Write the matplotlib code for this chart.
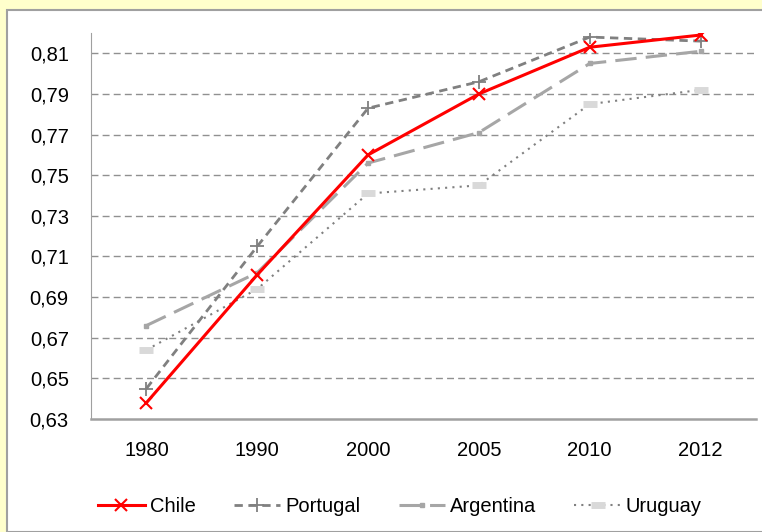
import matplotlib.pyplot as plt
from matplotlib.patches import Rectangle
from matplotlib.ticker import FuncFormatter

plt.rcParams['font.family'] = ['Liberation Sans', 'DejaVu Sans']

years = ['1980', '1990', '2000', '2005', '2010', '2012']
chile = [0.638, 0.701, 0.760, 0.790, 0.813, 0.819]
portugal = [0.645, 0.715, 0.783, 0.796, 0.818, 0.816]
argentina = [0.676, 0.702, 0.756, 0.771, 0.805, 0.811]
uruguay = [0.664, 0.694, 0.741, 0.745, 0.785, 0.792]
yticks = [0.63, 0.65, 0.67, 0.69, 0.71, 0.73, 0.75, 0.77, 0.79, 0.81]

fig = plt.figure(figsize=(7.62, 5.32), dpi=100, facecolor='#FFFFCC')
# white inner panel with gray border
fig.patches.append(Rectangle((7 / 762, 0), 1, 1 - 10 / 532, transform=fig.transFigure,
                             facecolor='white', edgecolor='#A0A0A0', linewidth=1.5, zorder=-5))

ax = fig.add_axes([91 / 762, 1 - 419 / 532, (756 - 91) / 762, (419 - 33) / 532])
ax.set_facecolor('white')
x = range(len(years))

ax.plot(x, chile, color='#FF0000', lw=2.2, marker='x', ms=9, mew=1.5, label='Chile', zorder=5)
ax.plot(x, portugal, color='#808080', lw=2, ls=(0, (3, 2)), marker='+', ms=10, mew=1.3,
        label='Portugal', zorder=4)
ax.plot(x, argentina, color='#A6A6A6', lw=2.2, ls=(0, (7, 3)), marker='s', ms=3.5,
        label='Argentina', zorder=3)
ax.plot(x, uruguay, color='#808080', lw=1.5, ls=(0, (1, 2.5)), marker='_', ms=10, mew=5,
        mec='#D9D9D9', mfc='#D9D9D9', label='Uruguay', zorder=2)

ax.set_xlim(-0.5, len(years) - 0.5)
ax.set_ylim(0.63, 0.82)
ax.set_xticks(list(x))
ax.set_xticklabels(years)
ax.set_yticks(yticks)
ax.yaxis.set_major_formatter(FuncFormatter(lambda v, p: f'{v:.2f}'.replace('.', ',')))
ax.tick_params(length=0, labelsize=14.5)
ax.tick_params(axis='y', pad=16)
ax.tick_params(axis='x', pad=16)

for v in yticks[1:]:
    ax.axhline(v, color='#909090', lw=1, ls=(0, (5, 3)), zorder=1)

for s in ['top', 'right']:
    ax.spines[s].set_visible(False)
ax.spines['left'].set_color('#A0A0A0')
ax.spines['bottom'].set_color('#A0A0A0')
ax.spines['bottom'].set_linewidth(1.8)

fig.legend(loc='center', bbox_to_anchor=(0.525, 1 - 507 / 532), ncol=4, frameon=False,
           fontsize=14.5, handlelength=2.3, columnspacing=1.9, handletextpad=0.25)

fig.savefig('out.png', dpi=100, facecolor=fig.get_facecolor())
